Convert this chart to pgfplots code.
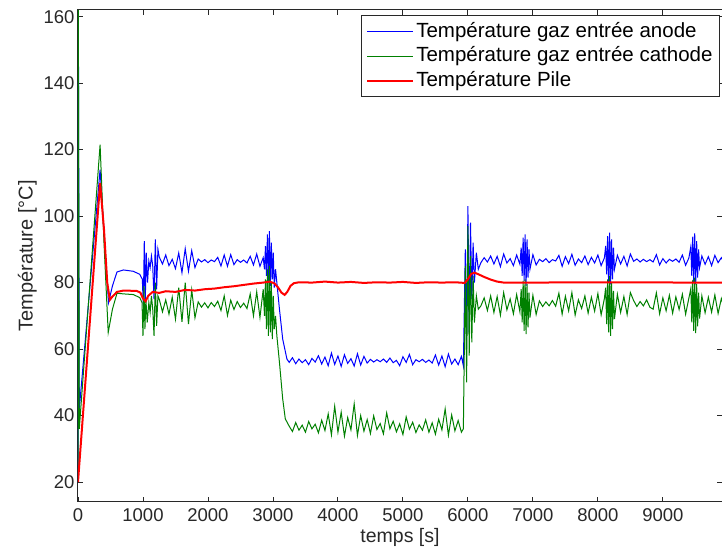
\documentclass[border=0pt]{standalone}
\usepackage{fontspec}
\setmainfont{Liberation Sans}
\usepackage{pgfplots}
\pgfplotsset{compat=1.18}
\definecolor{mblue}{RGB}{0,0,255}
\definecolor{mgreen}{RGB}{0,128,0}
\definecolor{mred}{RGB}{255,0,0}
\definecolor{axgray}{RGB}{40,40,40}
\begin{document}
\begin{tikzpicture}
\begin{axis}[
  scale only axis, width=644pt, height=492pt,
  xmin=0, xmax=9910, ymin=14, ymax=162,
  xtick={0,1000,...,9000}, ytick={20,40,...,160},
  tick align=inside, major tick length=5pt,
  axis line style={line width=1pt, axgray},
  every tick/.style={axgray, line width=0.9pt},
  tick label style={font=\fontsize{18.5}{20}\selectfont, text=axgray},
  xticklabel style={yshift=-3pt},
  /pgf/number format/assume math mode=true,
  /pgf/number format/1000 sep={},
  xlabel={temps [s]}, ylabel={Température [°C]},
  xlabel style={font=\fontsize{19.5}{21}\selectfont, text=axgray},
  ylabel style={font=\fontsize{20}{22}\selectfont, text=axgray},
  legend cell align=left,
  legend image code/.code={\draw[#1] (0pt,0pt) -- (46pt,0pt);},
  legend style={at={(rel axis cs:1,1)}, anchor=north east, xshift=-2pt, yshift=-5pt,
    font=\fontsize{20.5}{23}\selectfont, draw=axgray, line width=0.9pt,
    inner xsep=5pt, inner ysep=4pt, row sep=0pt,
    nodes={inner xsep=2pt, inner ysep=1pt, text height=17pt, text depth=5.5pt}},
]
\coordinate (bl) at (rel axis cs:0,0);
\coordinate (tr) at (rel axis cs:1,1);
\addplot[mblue, line width=1pt] table {
x y
0 20
8 145
20 42
340 114
400 95
470 74
530 79
600 83.2
700 83.8
850 83.4
950 82.5
990 81
1005 73
1020 92.5
1035 74
1050 89
1070 80
1090 86.5
1110 84.5
1130 88
1150 85
1170 75
1190 93
1210 78
1230 90
1250 87.7
1300 85.6
1350 88.3
1400 85.1
1450 87.0
1500 84.2
1550 88.9
1600 83.0
1650 90.2
1700 83.4
1750 89.6
1800 84.5
1850 87.1
1900 86.2
1950 86.9
2000 86.0
2050 86.8
2100 86.3
2150 87.6
2200 85.0
2250 88.3
2300 84.9
2350 88.4
2400 85.4
2450 86.9
2500 86.1
2550 86.8
2600 85.9
2650 87.9
2700 85.3
2750 88.6
2800 84.9
2850 87.5
2870 84.0
2885 91.0
2900 82.0
2915 94.5
2930 80.0
2945 95.5
2960 79.0
2975 92.0
2990 81.0
3005 89.0
3020 78.5
3040 84.0
3060 80.0
3100 72.0
3150 63.0
3215 57.0
3250 56.0
3300 57.4
3350 55.6
3400 57.0
3450 55.9
3500 56.8
3550 55.3
3600 57.2
3650 56.1
3700 58.0
3750 55.5
3800 57.6
3850 55.0
3900 58.8
3950 55.4
4000 57.9
4050 54.8
4100 58.3
4150 55.7
4200 57.1
4250 54.9
4300 58.6
4350 55.2
4400 57.8
4450 55.8
4500 56.9
4550 56.1
4600 56.8
4650 56.2
4700 57.0
4750 56.0
4800 57.3
4850 55.9
4900 56.6
4950 55.0
5000 57.7
5050 56.0
5100 58.4
5150 55.3
5200 56.8
5250 56.2
5300 56.9
5350 56.0
5400 56.7
5450 55.8
5500 58.2
5550 55.2
5600 57.9
5650 54.7
5700 58.5
5750 55.5
5800 57.0
5850 55.3
5900 57.8
5930 55.0
5960 90.0
5980 60.0
6000 103.0
6020 65.0
6040 98.0
6060 75.0
6080 92.0
6100 80.0
6130 89.0
6160 84.0
6200 86.0
6250 87.5
6300 86.2
6350 88.0
6400 85.6
6450 87.9
6500 84.8
6550 88.6
6600 85.9
6650 87.2
6700 85.1
6750 88.3
6800 85.5
6820 90.5
6835 82.0
6850 93.5
6865 80.5
6880 94.5
6895 79.0
6910 93.0
6925 81.5
6940 90.0
6955 84.0
7000 88.4
7050 85.3
7100 87.0
7150 86.3
7200 87.2
7250 86.0
7300 86.9
7350 86.5
7400 88.2
7450 84.9
7500 87.8
7550 85.7
7600 88.5
7650 85.2
7700 87.1
7750 86.0
7800 88.0
7850 85.4
7900 87.6
7950 85.9
8000 88.3
8050 85.1
8100 87.4
8120 91.0
8135 82.5
8150 94.0
8165 80.0
8180 95.0
8195 79.5
8210 93.0
8225 81.0
8240 90.5
8255 84.0
8300 88.2
8350 85.6
8400 87.9
8450 85.0
8500 88.6
8550 86.4
8600 87.1
8650 86.2
8700 87.0
8750 86.3
8800 86.9
8850 86.2
8900 88.4
8950 85.3
9000 87.2
9050 85.9
9100 87.0
9150 86.4
9200 87.1
9250 86.1
9300 88.3
9350 85.2
9400 87.4
9430 90.8
9445 82.0
9460 93.8
9475 80.2
9490 94.8
9505 79.5
9520 92.5
9535 81.5
9550 90.0
9565 84.5
9600 88.0
9650 85.5
9700 87.8
9750 85.1
9800 88.2
9850 86.0
9900 87.5
9950 85.8
};
\addlegendentry{Température gaz entrée anode}
\addplot[mgreen, line width=1pt] table {
x y
0 20
5 162
20 36
340 121.5
400 92
465 65
530 72
600 76.8
700 76.6
850 76.4
950 75.5
985 74
1000 64
1015 79
1030 66
1045 75
1065 68
1090 74
1110 71
1130 76
1150 72
1170 64
1190 80
1210 67
1230 76
1250 75.0
1300 71.2
1350 74.8
1400 70.5
1450 75.6
1500 69.0
1550 78.5
1600 68.2
1650 80.0
1700 67.5
1750 77.8
1800 69.4
1850 74.2
1900 72.6
1950 73.9
2000 72.4
2050 74.0
2100 72.8
2150 74.4
2200 71.6
2250 76.0
2300 70.1
2350 74.7
2400 71.9
2450 74.3
2500 72.5
2550 73.8
2600 72.2
2650 76.6
2700 70.0
2750 77.2
2800 69.5
2850 78.0
2870 70
2885 81
2900 66
2915 84
2930 64
2945 85
2960 65
2975 80
2990 63
3005 76
3020 66
3040 70
3060 64
3100 56
3150 45
3190 39
3250 36.8
3300 35.2
3350 37.9
3400 35.6
3450 37.1
3500 35.0
3550 38.2
3600 36.0
3650 37.4
3700 34.8
3750 38.6
3800 35.5
3850 40.5
3900 34.2
3950 42.8
4000 35.0
4050 41.0
4100 33.8
4150 39.4
4200 35.7
4250 43.5
4300 34.0
4350 40.0
4400 35.3
4450 38.8
4500 34.6
4550 39.9
4600 35.8
4650 37.6
4700 34.5
4750 40.8
4800 36.0
4850 38.3
4900 35.1
4950 37.5
5000 34.3
5050 39.6
5100 35.9
5150 38.0
5200 34.9
5250 37.2
5300 35.6
5350 38.7
5400 35.0
5450 37.8
5500 34.4
5550 38.9
5600 35.7
5650 42.0
5700 34.1
5750 40.2
5800 35.4
5850 38.5
5900 35.0
5930 36.0
5960 85.0
5980 50.0
6000 97.0
6020 58.0
6040 88.0
6060 62.0
6080 82.0
6100 68.0
6130 76.0
6160 72.0
6200 73.0
6250 75.4
6300 71.6
6350 76.0
6400 71.0
6450 75.8
6500 70.2
6550 77.0
6600 71.8
6650 75.1
6700 70.6
6750 76.4
6800 71.2
6820 78.0
6835 68.0
6850 80.5
6865 65.5
6880 81.0
6895 64.5
6910 79.5
6925 66.5
6940 77.0
6955 69.5
7000 76.2
7050 70.4
7100 74.5
7150 72.8
7200 74.2
7250 73.0
7300 74.6
7350 72.9
7400 76.8
7450 70.5
7500 75.9
7550 71.5
7600 77.0
7650 70.2
7700 74.8
7750 72.2
7800 76.0
7850 70.8
7900 75.6
7950 71.4
8000 76.7
8050 70.3
8100 75.2
8120 78.5
8135 67.5
8150 81.0
8165 65.0
8180 82.0
8195 64.0
8210 80.0
8225 66.0
8240 77.5
8255 69.0
8300 76.5
8350 71.0
8400 75.8
8450 70.4
8500 77.0
8550 74.6
8600 72.8
8650 74.3
8700 73.0
8750 74.8
8800 72.6
8850 72.0
8900 76.9
8950 70.6
9000 75.4
9050 71.5
9100 76.2
9150 70.8
9200 75.7
9250 71.9
9300 76.5
9350 70.5
9400 75.3
9430 78.2
9445 68.0
9460 80.8
9475 65.5
9490 81.5
9505 64.8
9520 79.6
9535 66.8
9550 77.0
9565 69.2
9600 76.0
9650 70.9
9700 75.6
9750 71.1
9800 76.3
9850 70.7
9900 75.2
9950 72.0
};
\addlegendentry{Température gaz entrée cathode}
\addplot[mred, line width=2pt] table {
x y
0 20
340 110
400 96
450 80
490 74.8
530 75.8
600 77.2
700 77.6
900 77.5
960 77.0
1000 75.2
1040 74.4
1080 76.0
1150 77.2
1250 76.9
1350 77.4
1500 77.2
1650 77.8
1800 77.6
1950 78.0
2100 78.2
2250 78.6
2400 78.9
2550 79.3
2700 79.7
2850 80.0
2950 80.3
3020 79.8
3080 78.5
3130 77.0
3180 76.3
3220 77.2
3270 79.0
3320 79.8
3400 80.1
3600 80.0
3800 80.3
4000 80.0
4200 80.2
4400 79.9
4600 80.1
4800 80.0
5000 80.2
5200 79.9
5400 80.1
5600 80.0
5800 80.1
5950 79.9
6000 81.0
6050 82.6
6100 83.0
6150 82.6
6250 81.7
6350 80.9
6450 80.3
6550 80.0
6900 80.0
8200 80.1
9500 80.0
9910 80.0
};
\addlegendentry{Température Pile}
\end{axis}
\pgfresetboundingbox
\path (bl) ++(-78pt,-49pt) coordinate (BL);
\path (tr) ++(0pt,10pt) coordinate (TR);
\path (BL) rectangle (TR);
\end{tikzpicture}
\end{document}
